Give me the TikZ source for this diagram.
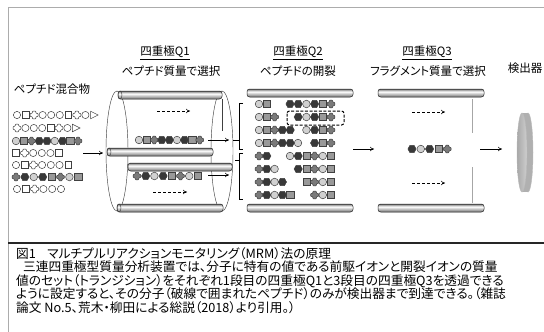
\documentclass[tikz,border=0pt]{standalone}
\usepackage{fontspec}
\setmainfont{Noto Sans CJK JP}[RawFeature=+palt]
\usetikzlibrary{arrows.meta}

\definecolor{beadedge}{gray}{0.25}
\definecolor{lightbead}{gray}{0.82}
\definecolor{sqbead}{gray}{0.60}
\definecolor{crossbead}{gray}{0.48}
\definecolor{darkbead}{gray}{0.22}

% cylinder rod shading: dark rim, bright band above the middle
\pgfdeclareverticalshading{rodshade}{100bp}{color(0bp)=(black!70); color(25bp)=(black!70); color(33bp)=(gray!85); color(58bp)=(white); color(68bp)=(gray!60); color(75bp)=(black!60); color(100bp)=(black!60)}

\tikzset{
  bead/.style={draw=beadedge, line width=0.5pt},
  rod/.style={shading=rodshade, draw=black!85, line width=0.5pt, rounded corners=2.6pt},
  arr/.style={-{To[length=4pt,width=4.5pt]}, line width=0.6pt},
  darr/.style={arr, dash pattern=on 3pt off 2pt},
  lbl/.style={font=\fontsize{11.5}{13}\selectfont, inner sep=0pt},
  captext/.style={font=\fontsize{12.7}{14}\selectfont, anchor=base west, inner sep=0pt},
  shell/.style={draw=black!75, line width=0.45pt},
  brk/.style={line width=0.6pt},
}

% beads: lower case = open (white), upper case = filled
\newcommand\bdc[2]{\path[bead,fill=white] (#1,#2) circle (3.6pt);}
\newcommand\bdC[2]{\path[bead,fill=lightbead] (#1,#2) circle (3.8pt);}
\newcommand\bds[2]{\path[bead,fill=white,shift={(#1,#2)}] (-3.4,-3.5) rectangle (3.4,3.5);}
\newcommand\bdS[2]{\path[bead,fill=sqbead,shift={(#1,#2)}] (-3.6,-3.7) rectangle (3.6,3.7);}
\newcommand\crosspath{(-1.7,-3.9) -- (1.7,-3.9) -- (1.7,-1.7) -- (3.9,-1.7) -- (3.9,1.7) -- (1.7,1.7) -- (1.7,3.9) -- (-1.7,3.9) -- (-1.7,1.7) -- (-3.9,1.7) -- (-3.9,-1.7) -- (-1.7,-1.7) -- cycle}
\newcommand\bdx[2]{\path[bead,fill=white,rounded corners=0.8pt,shift={(#1,#2)}] \crosspath;}
\newcommand\bdX[2]{\path[bead,fill=crossbead,rounded corners=0.8pt,shift={(#1,#2)}] \crosspath;}
\newcommand\bdH[2]{\path[bead,fill=darkbead,shift={(#1,#2)}] (4.1,0) -- (2.05,3.7) -- (-2.05,3.7) -- (-4.1,0) -- (-2.05,-3.7) -- (2.05,-3.7) -- cycle;}
\newcommand\bdt[2]{\path[bead,fill=white,shift={(#1,#2)}] (-3.4,-3.8) -- (4.2,0) -- (-3.4,3.8) -- cycle;}

% a row of beads: first centre x, y, pitch, list of bead codes
\newcommand\beadrow[4]{%
  \foreach \b [count=\i from 0] in {#4} {\csname bd\b\endcsname{#1+\i*#3}{#2}}}

% a horizontal rod: left x, right x, centre y
\newcommand\rodat[3]{\path[rod] (#1,#3-4) rectangle (#2,#3+4);}

\begin{document}
\begin{tikzpicture}[x=1pt,y=-1pt]
\useasboundingbox (0,0) rectangle (544,332);
\fill[white] (0,0) rectangle (544,332);

% frame and divider
\draw[gray!65, line width=0.8pt] (8,332) -- (8,7) -- (544,7);
\draw[black!85, line width=1.2pt] (8,243) -- (544,243);

% headings
\node[lbl] (q1a) at (165,53) {\underline{四重極Q1}};
\node[lbl] (q1b) at (171,71) {ペプチド質量で選択};
\node[lbl] (q2a) at (298,53) {\underline{四重極Q2}};
\node[lbl] (q2b) at (298,71) {ペプチドの開裂};
\node[lbl] (q3a) at (427,53) {\underline{四重極Q3}};
\node[lbl] (q3b) at (428,71) {フラグメント質量で選択};
\node[lbl] (det) at (525,68) {検出器};
\node[lbl] (mix) at (52,89) {ペプチド混合物};

% peptide mixture
\beadrow{17}{115}{8.55}{c,s,x,c,c,c,s,x,c,t}
\beadrow{17}{128}{8.4}{x,c,c,c,s,x,c,t}
\beadrow{16}{141}{7.75}{C,S,X,H,H,C,H,S,X}
\beadrow{16}{153}{8.6}{s,x,c,c,c,s}
\beadrow{16}{165}{8.7}{c,s,x,c,c,c,s}
\beadrow{16}{177}{8.9}{X,H,C,H,S,X,C,S}
\beadrow{17}{189}{8.8}{c,s,x,c,c,c}

% quadrupole Q1 (cylinder of four rods)
\draw[shell] (117,151) ellipse [x radius=11pt, y radius=60pt];
\draw[shell] (222,151) ellipse [x radius=11pt, y radius=60pt];
\draw[shell] (222,99) -- (222,131);
\rodat{118}{222}{95}
\draw[shell] (120,95) ellipse [x radius=2pt, y radius=4pt];
\rodat{128}{232}{167}
\rodat{117}{223}{208}
\draw[shell] (119,208) ellipse [x radius=2pt, y radius=4pt];
\rodat{107}{213}{152}
\draw[shell] (109,152) ellipse [x radius=2pt, y radius=4pt];

\beadrow{139}{140}{7.6}{C,S,X,H,H,C,H,S,X}
\beadrow{137}{176}{8.7}{X,H,C,H,S,X,C,S}

\coordinate (mixout) at (83,153);
\coordinate (q1in) at (103,153);
\draw[arr] (mixout) -- (q1in);
\coordinate (d1a) at (157,111); \coordinate (d1b) at (190,111);
\draw[darr] (d1a) -- (d1b);
\coordinate (d2a) at (153,192); \coordinate (d2b) at (187,192);
\draw[darr] (d2a) -- (d2b);
\coordinate (pa) at (208,140); \coordinate (pb) at (229,140);
\draw[arr] (pa) -- (pb);
\coordinate (pc) at (208,175); \coordinate (pd) at (229,175);
\draw[arr] (pc) -- (pd);

% quadrupole Q2 (collision cell)
\rodat{247}{353}{93}
\rodat{247}{353}{208}
\draw[brk] (243,103) -- (239,103) -- (239,149) -- (243,149);
\draw[brk] (239,140) -- (233,140);
\draw[brk] (243,153) -- (239,153) -- (239,199) -- (243,199);
\draw[brk] (239,160) -- (235,160);

\beadrow{259}{104}{7.8}{C,S}
\beadrow{259}{117}{7.8}{C,S,X}
\beadrow{259}{130}{7.8}{C,S,X,H,H}
\beadrow{259}{143}{7.8}{C,S,X,H,H,C}
\beadrow{259}{156}{7.8}{X,H}
\beadrow{259}{169}{7.8}{X,H,C}
\beadrow{259}{182}{7.8}{X,H,C,H}
\beadrow{259}{195}{7.8}{X,H,C,H,S}

\beadrow{290}{104}{8.2}{H,H,C,H,S,X}
\beadrow{298.2}{117}{8.2}{H,C,H,S,X}
\beadrow{306.4}{130}{8.2}{C,H,S,X}
\beadrow{314.6}{143}{8.2}{H,S,X}
\beadrow{290}{156}{8.2}{C,H,S,X,C,S}
\beadrow{298.2}{169}{8.2}{H,S,X,C,S}
\beadrow{306.4}{182}{8.2}{S,X,C,S}
\beadrow{314.6}{195}{8.2}{X,C,S}

\draw[line width=1pt, dash pattern=on 3pt off 1.6pt, rounded corners=2.5pt] (287,111) rectangle (344,125);

\coordinate (q2out) at (353,149); \coordinate (q3in) at (374,149);
\draw[arr] (q2out) -- (q3in);

% quadrupole Q3
\rodat{378}{484}{93}
\rodat{378}{484}{208}
\draw[gray!70, line width=0.8pt] (472,99) -- (472,133);
\draw[gray!70, line width=0.8pt] (472,167) -- (472,203);
\coordinate (d3a) at (412,112); \coordinate (d3b) at (445,112);
\draw[darr] (d3a) -- (d3b);
\coordinate (d4a) at (412,183); \coordinate (d4b) at (445,183);
\draw[darr] (d4a) -- (d4b);
\beadrow{412}{149}{8.8}{H,C,H,S,X}
\coordinate (q3out) at (480,149); \coordinate (detin) at (502,149);
\draw[arr] (q3out) -- (detin);

% detector disc
\path[fill=gray!62, draw=gray!55] (528,152.5) ellipse [x radius=5pt, y radius=39.5pt];
\fill[gray!62] (522,113) rectangle (528,192);
\shade[left color=gray!68, right color=gray!38, draw=gray!55] (522,152.5) ellipse [x radius=5pt, y radius=39.5pt];

% caption
\node[captext] (c1) at (16,258) {図1\hspace{0.9em}マルチプルリアクションモニタリング（MRM）法の原理};
\node[captext] (c2) at (16,271.5) {\hspace{0.55em}三連四重極型質量分析装置では、分子に特有の値である前駆イオンと開裂イオンの質量};
\node[captext] (c3) at (16,285) {値のセット（トランジション）をそれぞれ1段目の四重極Q1と3段目の四重極Q3を透過できる};
\node[captext] (c4) at (16,298.5) {ように設定すると、その分子（破線で囲まれたペプチド）のみが検出器まで到達できる。（雑誌};
\node[captext] (c5) at (16,312) {論文 No.5、荒木・柳田による総説（2018）より引用。）};
\end{tikzpicture}
\end{document}
